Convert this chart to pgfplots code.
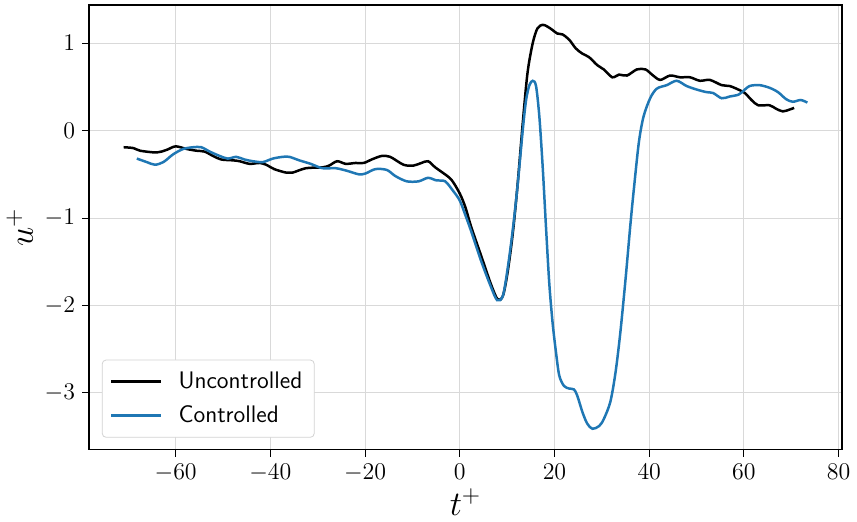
\documentclass[border=0pt]{standalone}
\usepackage{pgfplots}
\pgfplotsset{compat=1.18}
\definecolor{tabblue}{HTML}{1F77B4}

\begin{document}
\begin{tikzpicture}
\begin{axis}[
  scale only axis,
  width=377.5pt,
  height=223pt,
  xmin=-78.3, xmax=80.7,
  ymin=-3.65, ymax=1.437,
  xtick={-60,-40,-20,0,20,40,60,80},
  ytick={-3,-2,-1,0,1},
  tick align=outside,
  tick pos=left,
  major tick length=3.5pt,
  tick style={black, line width=0.5pt},
  grid=major,
  grid style={gray!30, line width=0.5pt},
  axis line style={line width=0.6pt},
  ticklabel style={font=\fontsize{13}{15}\selectfont},
  xlabel={\LARGE $t^{+}$},
  ylabel={\LARGE $u^{+}$},
  xlabel style={yshift=3pt},
  ylabel style={yshift=-1pt},
  legend cell align=left,
  legend style={at={(0.017,0.027)}, anchor=south west,
    draw=gray!35, rounded corners=2pt, font=\large\sffamily,
    row sep=3pt, inner xsep=4pt, inner ysep=4pt},
  legend image code/.code={\draw[#1, line width=1.3pt] (0pt,0pt) -- (25pt,0pt); \path (31pt,0pt);},
]
\addplot[black, line width=1.25pt, smooth] coordinates {
(-71.0,-0.19) (-68.9,-0.20) (-67.5,-0.23) (-64.0,-0.25) (-61.9,-0.22)
(-60.0,-0.18) (-57.7,-0.21) (-55.6,-0.23) (-53.9,-0.24) (-52.1,-0.29)
(-50.4,-0.33) (-47.9,-0.34) (-46.5,-0.35) (-44.4,-0.38) (-42.3,-0.37)
(-40.9,-0.39) (-39.2,-0.44) (-36.7,-0.48) (-35.3,-0.48) (-32.5,-0.43)
(-29.0,-0.42) (-27.6,-0.40) (-25.9,-0.35) (-24.1,-0.38) (-22.0,-0.37)
(-20.3,-0.37) (-18.6,-0.33) (-16.5,-0.29) (-14.7,-0.30) (-11.9,-0.39)
(-9.8,-0.40) (-8.1,-0.37) (-6.7,-0.35) (-5.2,-0.42) (-3.9,-0.47)
(-1.8,-0.56) (0.0,-0.72) (1.2,-0.88) (2.4,-1.10) (4.5,-1.43)
(6.6,-1.76) (8.0,-1.93) (9.1,-1.89) (10.1,-1.62) (11.2,-1.17)
(12.2,-0.62) (13.3,0.09) (14.3,0.66) (15.4,1.00) (16.4,1.17)
(17.5,1.21) (18.5,1.19) (19.6,1.15) (20.6,1.11) (21.7,1.10)
(23.1,1.04) (24.5,0.94) (25.9,0.88) (27.3,0.84) (29.0,0.75)
(30.4,0.70) (32.2,0.61) (33.6,0.64) (35.3,0.63) (37.4,0.70)
(39.2,0.70) (40.6,0.64) (42.3,0.58) (44.4,0.63) (46.5,0.61)
(48.6,0.61) (50.7,0.57) (52.8,0.58) (55.3,0.52) (57.0,0.51)
(58.8,0.47) (60.2,0.43) (61.6,0.35) (63.0,0.29) (65.4,0.29)
(66.8,0.25) (68.2,0.22) (69.6,0.24) (70.6,0.26)
};
\addlegendentry{Uncontrolled}
\addplot[tabblue, line width=1.25pt, smooth] coordinates {
(-68.2,-0.32) (-66.1,-0.36) (-64.4,-0.39) (-62.6,-0.36) (-60.5,-0.27)
(-58.4,-0.21) (-56.3,-0.19) (-54.6,-0.19) (-52.8,-0.24) (-50.7,-0.29)
(-49.0,-0.32) (-47.2,-0.30) (-45.5,-0.33) (-43.7,-0.35) (-41.6,-0.36)
(-39.5,-0.32) (-37.4,-0.30) (-36.0,-0.30) (-33.9,-0.34) (-31.5,-0.38)
(-29.0,-0.43) (-26.2,-0.43) (-23.8,-0.46) (-21.3,-0.50) (-19.9,-0.49)
(-17.8,-0.44) (-15.4,-0.45) (-13.6,-0.52) (-11.2,-0.58) (-8.7,-0.58)
(-6.7,-0.54) (-4.9,-0.57) (-3.1,-0.58) (-1.4,-0.69) (0.0,-0.80)
(1.2,-0.97) (2.4,-1.15) (4.5,-1.49) (6.6,-1.79) (7.9,-1.94)
(9.1,-1.89) (10.1,-1.58) (11.2,-1.13) (12.2,-0.63) (13.3,0.01)
(14.0,0.35) (14.7,0.52) (15.4,0.57) (16.1,0.51) (16.8,0.16)
(17.5,-0.41) (18.2,-1.10) (18.9,-1.75) (19.6,-2.20) (20.3,-2.53)
(21.0,-2.80) (22.0,-2.92) (23.1,-2.95) (24.1,-2.96) (24.8,-3.03)
(25.9,-3.22) (26.9,-3.35) (28.0,-3.41) (29.4,-3.38) (30.4,-3.30)
(31.8,-3.10) (32.9,-2.76) (33.9,-2.31) (35.0,-1.70) (36.0,-1.09)
(36.7,-0.70) (37.8,-0.14) (38.8,0.16) (40.2,0.37) (41.6,0.48)
(43.7,0.52) (45.8,0.57) (47.9,0.51) (50.0,0.47) (52.1,0.44)
(53.5,0.43) (55.3,0.37) (57.0,0.39) (58.8,0.41) (59.8,0.45)
(61.2,0.51) (63.3,0.52) (65.4,0.49) (67.2,0.44) (68.9,0.36)
(70.3,0.33) (72.0,0.35) (73.4,0.32)
};
\addlegendentry{Controlled}
\end{axis}
\path (current axis.north east) ++(3pt,2.5pt);
\end{tikzpicture}
\end{document}
